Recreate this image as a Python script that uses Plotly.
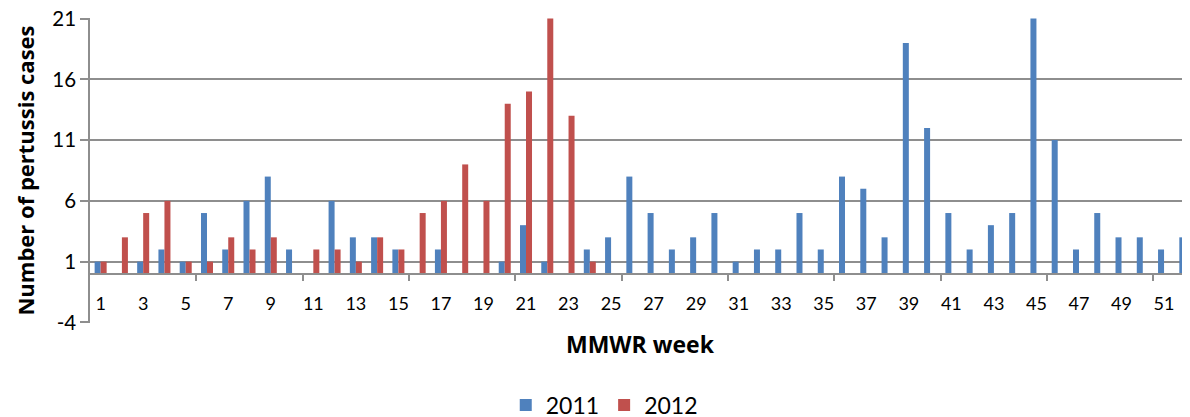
import plotly.graph_objects as go

weeks = list(range(1, 53))
cases_2011 = [1, 0, 1, 2, 1, 5, 2, 6, 8, 2, 0, 6, 3, 3, 2, 0, 2, 0, 0, 1,
              4, 1, 0, 2, 3, 8, 5, 2, 3, 5, 1, 2, 2, 5, 2, 8, 7, 3, 19, 12,
              5, 2, 4, 5, 21, 11, 2, 5, 3, 3, 2, 3]
cases_2012 = [1, 3, 5, 6, 1, 1, 3, 2, 3, 0, 2, 2, 1, 3, 2, 5, 6, 9, 6, 14,
              15, 21, 13, 1] + [0] * 28
y_ticks = [-4, 1, 6, 11, 16, 21]
y_tick_text = ["-4", "1", "6", "11", "16", "21"]
x_tick_vals = list(range(1, 52, 2))
x_tick_text = [str(v) for v in x_tick_vals]
x_minor_vals = [5.5, 10.5, 15.5, 20.5, 25.5, 30.5, 35.5, 40.5, 45.5, 50.5]

FONT = "Lato"
BOLD = "Open Sans"
GRID = "#8e8e8e"

fig = go.Figure()
fig.add_trace(go.Bar(x=weeks, y=cases_2011, name="2011", marker_color="#4F81BD",
                     marker_line_width=0))
fig.add_trace(go.Bar(x=weeks, y=cases_2012, name="2012", marker_color="#C0504D",
                     marker_line_width=0))

y0, y1 = -4.05, 21.05
fig.update_layout(
    width=1190, height=417,
    margin=dict(l=82, r=8, t=10, b=102, autoexpand=False),
    paper_bgcolor="white", plot_bgcolor="white",
    barmode="group", bargap=0.435, bargroupgap=0,
    font=dict(family=FONT, color="black"),
    showlegend=True,
    legend=dict(orientation="h", x=0.4675, xanchor="center", y=-0.269, yanchor="middle",
                font=dict(size=23, family=FONT), itemwidth=30, traceorder="normal"),
    xaxis=dict(
        range=[0.5, 52.22], tickmode="array", tickvals=x_tick_vals, ticktext=x_tick_text,
        ticks="", showgrid=False, zeroline=False, automargin=False,
        showline=True, linecolor=GRID, linewidth=1.5,
        anchor="free", position=(0 - y0) / (y1 - y0),
        tickfont=dict(size=18, family=FONT), ticklabelstandoff=14,
        minor=dict(tickvals=x_minor_vals, ticks="outside", ticklen=6, tickcolor=GRID,
                   tickwidth=1.5, showgrid=False),
    ),
    yaxis=dict(
        range=[y0, y1], tickmode="array", tickvals=y_ticks, ticktext=y_tick_text,
        showgrid=True, gridcolor=GRID, gridwidth=1.5, zeroline=False, automargin=False,
        showline=True, linecolor=GRID, linewidth=1.5,
        ticks="outside", ticklen=8, tickcolor=GRID, tickwidth=1.5,
        tickfont=dict(size=20.5, family=FONT), ticklabeloverflow="allow",
        title=dict(text="<b>Number of pertussis cases</b>",
                   font=dict(size=22, family=BOLD), standoff=12),
    ),
    annotations=[dict(text="<b>MMWR week</b>", xref="paper", yref="paper",
                      x=0.5, y=(323 - 344) / 305, xanchor="center", yanchor="middle",
                      showarrow=False, font=dict(size=23, family=BOLD, color="black"))],
)

fig.write_html("out.html")
